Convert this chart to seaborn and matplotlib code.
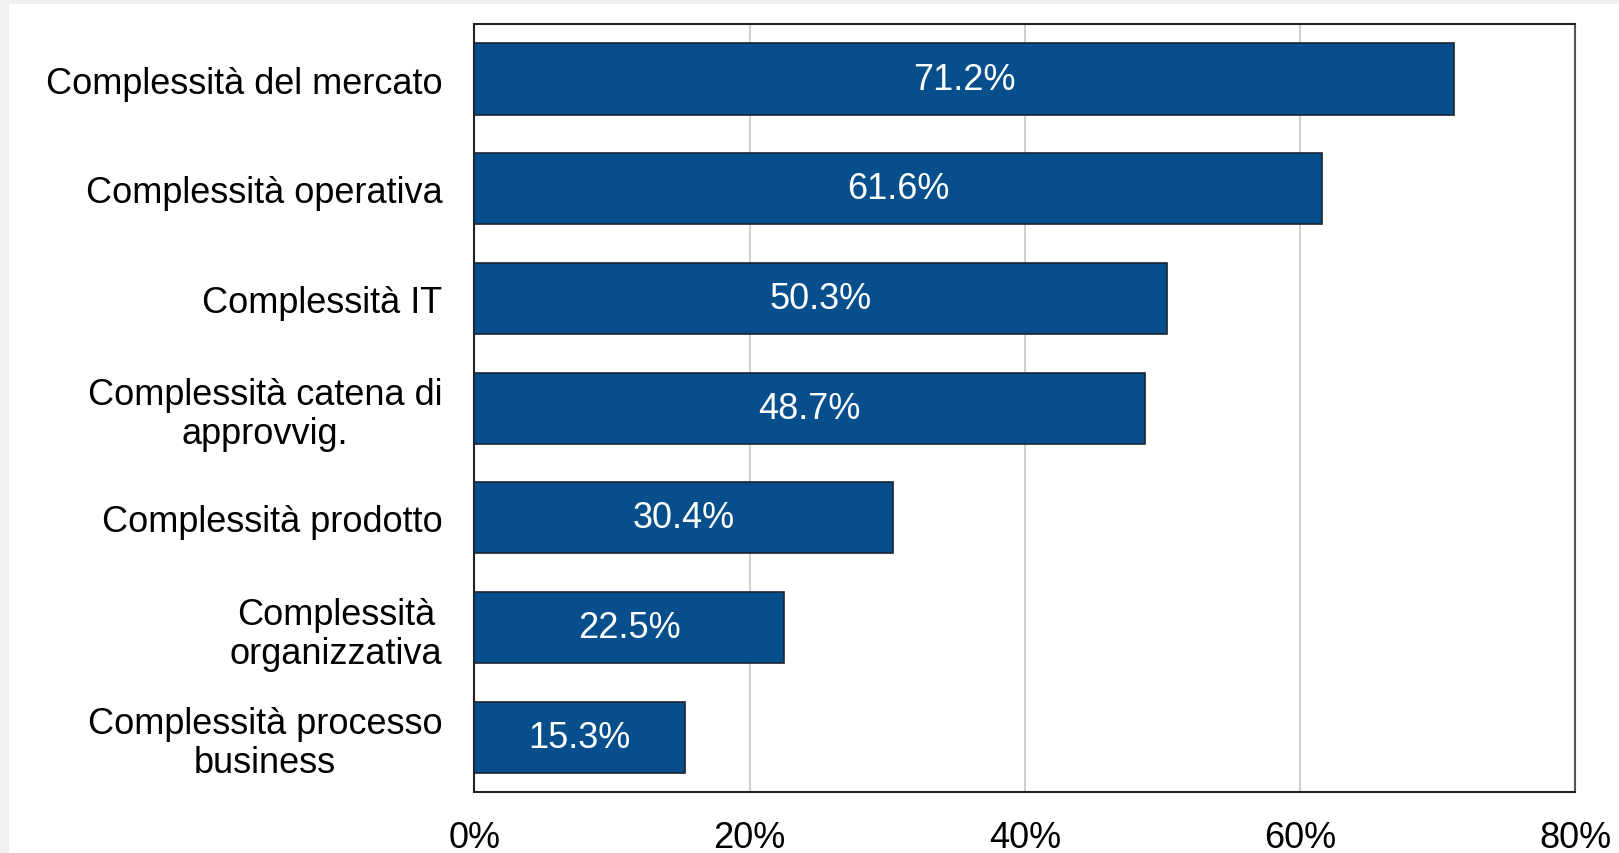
import matplotlib
matplotlib.use("Agg")
import matplotlib.pyplot as plt
import matplotlib.patches as mpatches
import pandas as pd
import seaborn as sns

categories = [
    "Complessità del mercato",
    "Complessità operativa",
    "Complessità IT",
    "Complessità catena di\napprovvig.",
    "Complessità prodotto",
    "Complessità\norganizzativa",
    "Complessità processo\nbusiness",
]
values = [71.2, 61.6, 50.3, 48.7, 30.4, 22.5, 15.3]
x_ticks = [0, 20, 40, 60, 80]

BAR_COLOR = "#064F8C"


def main():
    sns.set_style("white")
    plt.rcParams["font.family"] = ["Liberation Sans", "DejaVu Sans"]

    df = pd.DataFrame({"Categoria": categories, "Valore": values})

    fig = plt.figure(figsize=(16.19, 8.54), dpi=100)
    fig.patch.set_facecolor("#f0f0f0")
    # white page area of the screenshot
    fig.add_artist(mpatches.Rectangle((9 / 1619, 0), 1, 1 - 5 / 854,
                                      transform=fig.transFigure,
                                      facecolor="white", edgecolor="none", zorder=0))

    ax = fig.add_axes([0.293, 0.0714, 0.680, 0.899])
    sns.barplot(data=df, x="Valore", y="Categoria", ax=ax, color=BAR_COLOR,
                saturation=1, width=0.65, edgecolor="#1b2433", linewidth=1.2,
                zorder=3)

    ax.set_xlim(0, 80)
    ax.set_xticks(x_ticks)
    ax.set_xticklabels([f"{t}%" for t in x_ticks])
    ax.set_xlabel("")
    ax.set_ylabel("")
    ax.grid(axis="x", color="#c8c8c8", linewidth=1.2, zorder=0)
    ax.set_axisbelow(True)

    ax.tick_params(axis="x", length=0, pad=20, labelsize=26, labelcolor="black")
    ax.tick_params(axis="y", length=0, pad=23, labelsize=26, labelcolor="black")
    for lbl in ax.get_yticklabels():
        lbl.set_multialignment("center")
        lbl.set_linespacing(1.15)

    for side in ["top", "bottom", "left", "right"]:
        ax.spines[side].set_visible(True)
        ax.spines[side].set_color("#222222")
        ax.spines[side].set_linewidth(1.5)
    ax.spines["right"].set_color("#555555")

    for i, v in enumerate(values):
        ax.text(v / 2, i, f"{v:.1f}%", color="white", ha="center",
                va="center", fontsize=26, zorder=4)

    fig.savefig("out.png", dpi=100, facecolor=fig.get_facecolor())


if __name__ == "__main__":
    main()
